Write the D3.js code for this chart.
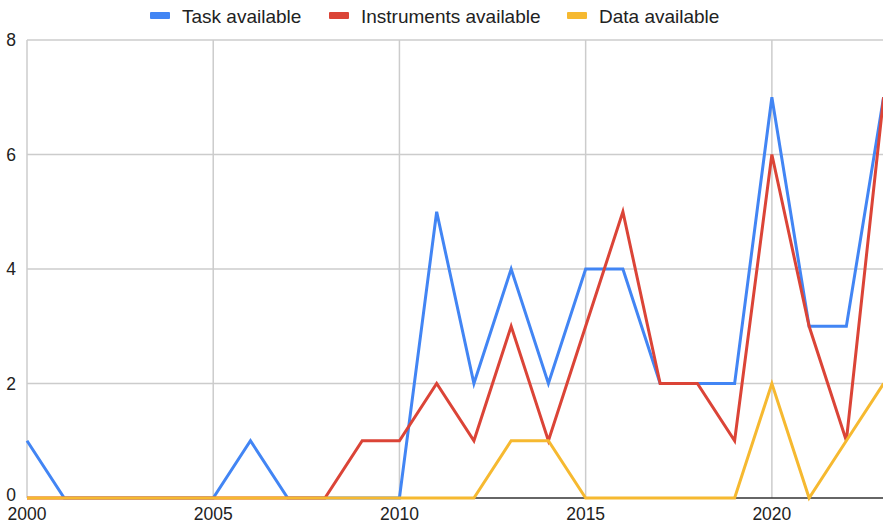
<!DOCTYPE html>
<html><head><meta charset="utf-8">
<script src="https://cdn.jsdelivr.net/npm/d3@7"></script>
<style>body{margin:0;background:#fff;font-family:"Liberation Sans",Arial,sans-serif;}</style>
</head><body><svg id="c" width="883" height="524"></svg>
<script>
const years = d3.range(2000, 2024);
const seriesNames = ["Task available", "Instruments available", "Data available"];
const colors = ["#4285F4", "#DB4437", "#F6B930"];
const taskValues =        [1,0,0,0,0,0,1,0,0,0,0,5,2,4,2,4,4,2,2,2,7,3,3,7];
const instrumentValues =  [0,0,0,0,0,0,0,0,0,1,1,2,1,3,1,3,5,2,2,1,6,3,1,7];
const dataValues =        [0,0,0,0,0,0,0,0,0,0,0,0,0,1,1,0,0,0,0,0,2,0,1,2];
const yTicks = [0,2,4,6,8];
const xTicks = [2000,2005,2010,2015,2020];

const svg = d3.select("#c");
const x = d3.scaleLinear().domain([2000, 2023]).range([27, 883.6]);
const y = d3.scaleLinear().domain([0, 8]).range([498, 40]);

svg.append("defs").append("clipPath").attr("id","clip")
  .append("rect").attr("x",0).attr("y",0).attr("width",883).attr("height",524);

// gridlines
svg.append("g").selectAll("line").data(yTicks.filter(d=>d>0)).join("line")
  .attr("x1",27).attr("x2",883).attr("y1",d=>y(d)).attr("y2",d=>y(d))
  .attr("stroke","#cccccc").attr("stroke-width",1.5);
svg.append("g").selectAll("line").data(xTicks).join("line")
  .attr("x1",d=>x(d)).attr("x2",d=>x(d)).attr("y1",40).attr("y2",498)
  .attr("stroke","#cccccc").attr("stroke-width",1.5);
// baseline
svg.append("line").attr("x1",27).attr("x2",883).attr("y1",y(0)).attr("y2",y(0))
  .attr("stroke","#333").attr("stroke-width",1.5);

// y labels
svg.append("g").selectAll("text").data(yTicks).join("text")
  .attr("x",16).attr("y",d=>y(d)+ (d===0 ? 3 : 6)).attr("text-anchor","end")
  .attr("font-size",17.5).attr("fill","#222").text(d=>d);
// x labels
svg.append("g").selectAll("text").data(xTicks).join("text")
  .attr("x",d=>x(d)).attr("y",520.2).attr("text-anchor","middle")
  .attr("font-size",17.5).attr("fill","#222").text(d=>d);

const allSeries = [taskValues, instrumentValues, dataValues];
const line = d3.line().x((d,i)=>x(years[i])).y(d=>y(d));
const lg = svg.append("g").attr("clip-path","url(#clip)");
allSeries.forEach((vals, k) => {
  lg.append("path").attr("d", line(vals)).attr("fill","none")
    .attr("stroke", colors[k]).attr("stroke-width",3).attr("stroke-linejoin","miter");
});

// legend
const legendX = [150, 329, 567];
const lgG = svg.append("g");
seriesNames.forEach((n,k)=>{
  lgG.append("rect").attr("x",legendX[k]).attr("y",12).attr("width",20).attr("height",7)
    .attr("rx",1).attr("fill",colors[k]);
  lgG.append("text").attr("x",legendX[k]+32).attr("y",23).attr("font-size",19)
    .attr("fill","#222").text(n);
});
</script></body></html>
